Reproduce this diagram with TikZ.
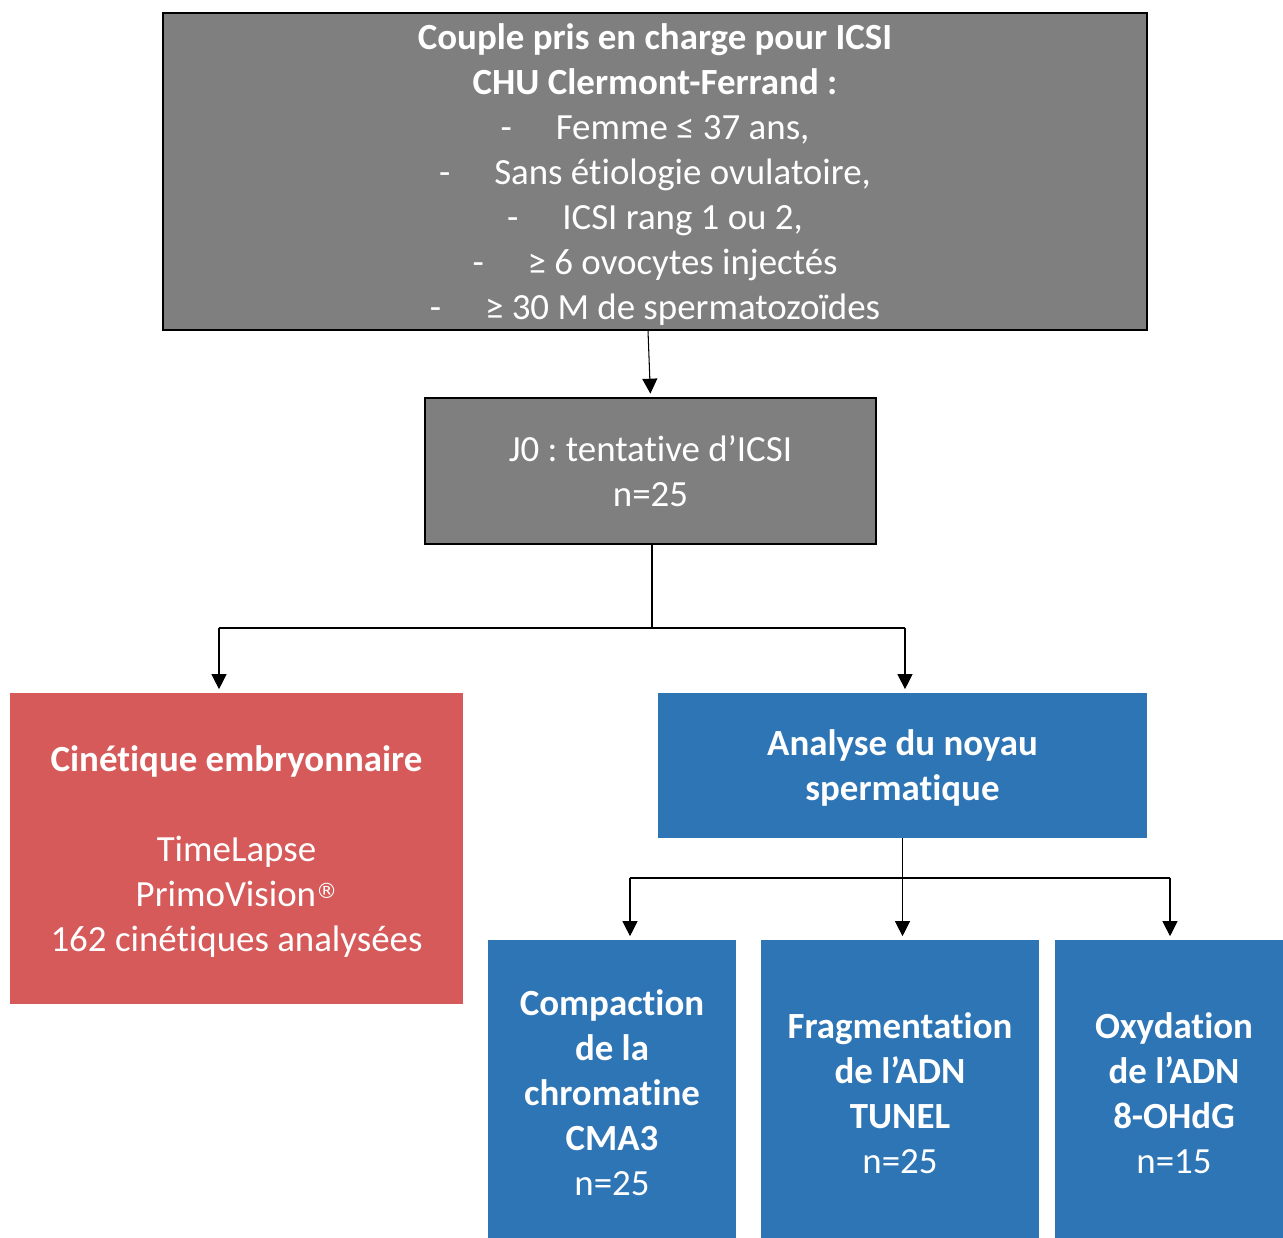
\documentclass[tikz,border=0pt]{standalone}
\usepackage{fontspec}
\setmainfont{Carlito}[Ligatures=NoCommon]
\newfontfamily\symbfont{DejaVu Sans}
\usetikzlibrary{arrows.meta}
\definecolor{grisfond}{HTML}{7F7F7F}
\definecolor{rougefond}{HTML}{D65A5A}
\definecolor{bleufond}{HTML}{2E75B6}
\frenchspacing
% hauteur et profondeur de ligne
\newcommand{\hautl}{\rule{0pt}{20pt}}
\newcommand{\basl}{\rule[-5.65pt]{0pt}{5.65pt}}

\begin{document}
\begin{tikzpicture}[x=0.02cm, y=-0.02cm,
  txt/.style={text=white, align=center, inner sep=0pt, font=\fontsize{21}{25.6}\selectfont},
  boitegris/.style={txt, fill=grisfond, draw=black, line width=1pt},
  boiterouge/.style={txt, fill=rougefond},
  boitebleue/.style={txt, fill=bleufond},
  fleche/.style={-{Triangle[width=8.5pt,length=8.5pt]}, line width=0.6pt, shorten >=2pt},
  lien/.style={line width=0.6pt}]
  \useasboundingbox (0,0) rectangle (1283,1237);
  % Inclusion
  \node[boitegris, minimum width=19.68cm, minimum height=6.34cm] (couple) at (655,171.5)
    {\hautl\textbf{Couple pris en charge pour ICSI}\\
     \textbf{CHU Clermont-Ferrand :}\\
     -\hspace{25pt}Femme ≤ 37 ans,\\
     -\hspace{25pt}Sans étiologie ovulatoire,\\
     -\hspace{25pt}ICSI rang 1 ou 2,\\
     -\hspace{25pt}≥ 6 ovocytes injectés\\
     -\hspace{25pt}≥ 30 M de spermatozoïdes\basl};
  \node[boitegris, minimum width=9.02cm, minimum height=2.92cm] (j0) at (650.5,471)
    {\hautl J0 : tentative d’ICSI\\n=25\basl};
  % Embryon
  \node[boiterouge, minimum width=9.06cm, minimum height=6.22cm] (cinetique) at (236.5,848.5)
    {\hautl\textbf{Cinétique embryonnaire}\\[25.6pt]
     TimeLapse\\PrimoVision\raisebox{4.5pt}{\symbfont\fontsize{12}{12}\selectfont ®}\\162 cinétiques analysées\basl};
  % Spermatozoide
  \node[boitebleue, minimum width=9.78cm, minimum height=2.9cm] (noyau) at (902.5,765.5)
    {\hautl\textbf{Analyse du noyau}\\\textbf{spermatique}\basl};
  \node[boitebleue, minimum width=4.96cm, minimum height=6.12cm] (compaction) at (612,1093)
    {\hautl\textbf{Compaction}\\\textbf{de la}\\\textbf{chromatine}\\\textbf{CMA3}\\n=25\basl};
  \node[boitebleue, minimum width=5.56cm, minimum height=6.12cm] (fragmentation) at (900,1093)
    {\hautl\textbf{Fragmentation}\\\textbf{de l’ADN}\\\textbf{TUNEL}\\n=25\basl};
  \node[boitebleue, minimum width=4.76cm, minimum height=6.12cm] (oxydation) at (1174,1093)
    {\hautl\textbf{Oxydation}\\\textbf{de l’ADN}\\\textbf{8-OHdG}\\n=15\basl};

  % Fleches
  \draw[fleche] ([xshift=-0.14cm]couple.south) -- (j0.north);
  \coordinate (bifA) at (652,628);
  \coordinate (gaucheA) at (219,628);
  \coordinate (droiteA) at (905,628);
  \draw[lien] (bifA |- j0.south) -- (bifA);
  \draw[lien] (gaucheA) -- (droiteA);
  \draw[fleche] (gaucheA) -- (cinetique.north -| gaucheA);
  \draw[fleche] (droiteA) -- (noyau.north -| droiteA);

  \coordinate (gaucheB) at (630,878);
  \coordinate (droiteB) at (1170,878);
  \draw[fleche] (noyau.south) -- (fragmentation.north -| noyau.south);
  \draw[lien] (gaucheB) -- (droiteB);
  \draw[fleche] (gaucheB) -- (compaction.north -| gaucheB);
  \draw[fleche] (droiteB) -- (oxydation.north -| droiteB);
\end{tikzpicture}
\end{document}
